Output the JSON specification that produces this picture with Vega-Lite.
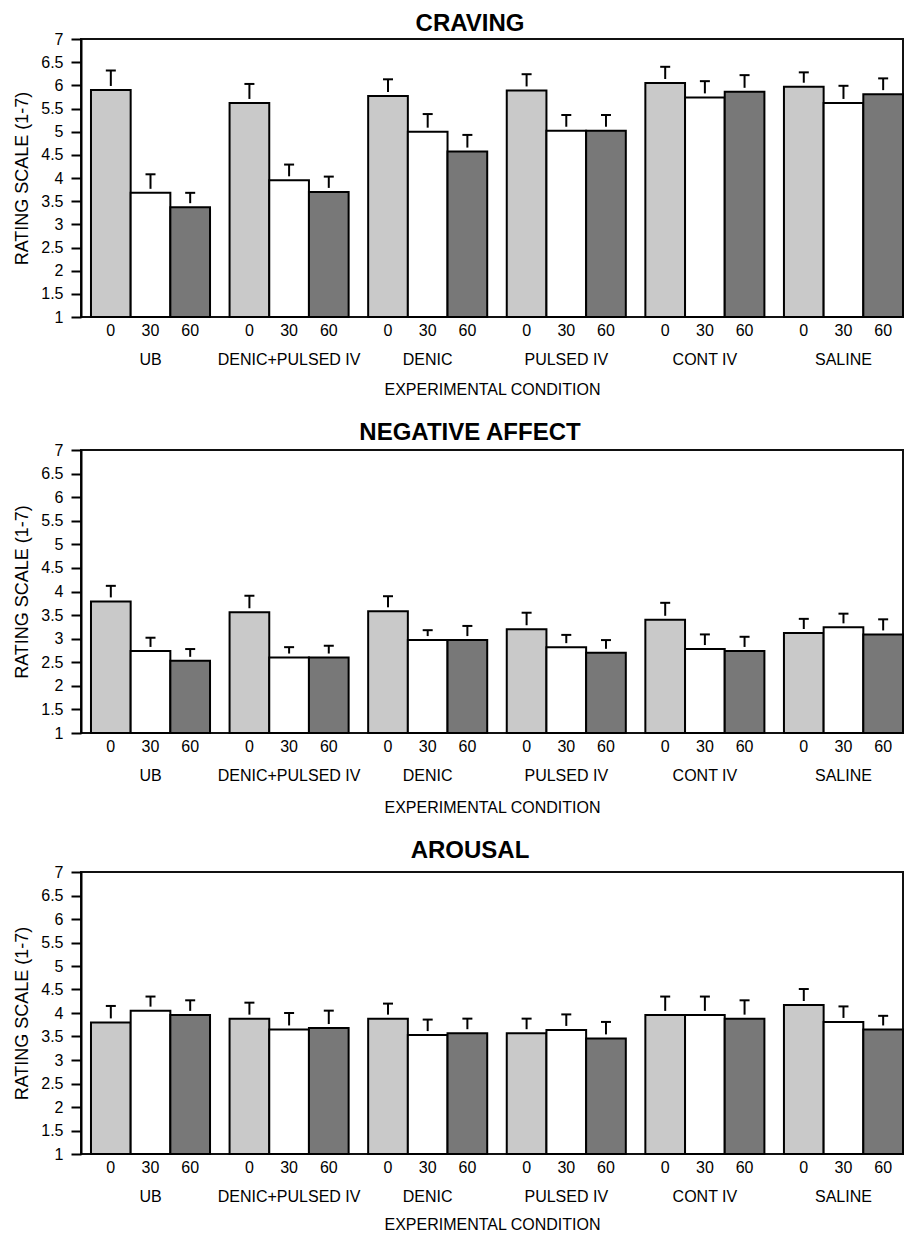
{
  "$schema": "https://vega.github.io/schema/vega-lite/v6.json",
  "padding": {"left": 12, "top": 11, "right": 0, "bottom": 0},
  "background": "white",
  "config": {
    "font": "Liberation Sans",
    "view": {"stroke": "#111111", "strokeWidth": 2},
    "axis": {"labelColor": "black", "titleColor": "black", "domainColor": "black", "tickColor": "black", "grid": false},
    "axisY": {"labelFontSize": 16, "tickSize": 10, "tickWidth": 2, "domainWidth": 2, "labelPadding": 8, "titleFontSize": 18, "titleFontWeight": "normal", "titlePadding": 9, "labelOverlap": false},
    "title": {"color": "black"}
  },
  "spacing": 22,
  "datasets": {
    "d": [
      {"panel": "CRAVING", "condition": "UB", "time": "0", "mean": 5.9, "upper": 6.32},
      {"panel": "CRAVING", "condition": "UB", "time": "30", "mean": 3.68, "upper": 4.08},
      {"panel": "CRAVING", "condition": "UB", "time": "60", "mean": 3.37, "upper": 3.68},
      {"panel": "CRAVING", "condition": "DENIC+PULSED IV", "time": "0", "mean": 5.62, "upper": 6.03},
      {"panel": "CRAVING", "condition": "DENIC+PULSED IV", "time": "30", "mean": 3.95, "upper": 4.29},
      {"panel": "CRAVING", "condition": "DENIC+PULSED IV", "time": "60", "mean": 3.7, "upper": 4.03},
      {"panel": "CRAVING", "condition": "DENIC", "time": "0", "mean": 5.77, "upper": 6.13},
      {"panel": "CRAVING", "condition": "DENIC", "time": "30", "mean": 5.0, "upper": 5.38},
      {"panel": "CRAVING", "condition": "DENIC", "time": "60", "mean": 4.57, "upper": 4.93},
      {"panel": "CRAVING", "condition": "PULSED IV", "time": "0", "mean": 5.89, "upper": 6.24},
      {"panel": "CRAVING", "condition": "PULSED IV", "time": "30", "mean": 5.02, "upper": 5.36},
      {"panel": "CRAVING", "condition": "PULSED IV", "time": "60", "mean": 5.02, "upper": 5.36},
      {"panel": "CRAVING", "condition": "CONT IV", "time": "0", "mean": 6.05, "upper": 6.4},
      {"panel": "CRAVING", "condition": "CONT IV", "time": "30", "mean": 5.74, "upper": 6.09},
      {"panel": "CRAVING", "condition": "CONT IV", "time": "60", "mean": 5.86, "upper": 6.22},
      {"panel": "CRAVING", "condition": "SALINE", "time": "0", "mean": 5.97, "upper": 6.28},
      {"panel": "CRAVING", "condition": "SALINE", "time": "30", "mean": 5.62, "upper": 5.99},
      {"panel": "CRAVING", "condition": "SALINE", "time": "60", "mean": 5.81, "upper": 6.15},
      {"panel": "NEGATIVE AFFECT", "condition": "UB", "time": "0", "mean": 3.79, "upper": 4.12},
      {"panel": "NEGATIVE AFFECT", "condition": "UB", "time": "30", "mean": 2.74, "upper": 3.02},
      {"panel": "NEGATIVE AFFECT", "condition": "UB", "time": "60", "mean": 2.53, "upper": 2.78},
      {"panel": "NEGATIVE AFFECT", "condition": "DENIC+PULSED IV", "time": "0", "mean": 3.56, "upper": 3.91},
      {"panel": "NEGATIVE AFFECT", "condition": "DENIC+PULSED IV", "time": "30", "mean": 2.6, "upper": 2.82},
      {"panel": "NEGATIVE AFFECT", "condition": "DENIC+PULSED IV", "time": "60", "mean": 2.6, "upper": 2.85},
      {"panel": "NEGATIVE AFFECT", "condition": "DENIC", "time": "0", "mean": 3.58, "upper": 3.9},
      {"panel": "NEGATIVE AFFECT", "condition": "DENIC", "time": "30", "mean": 2.97, "upper": 3.18},
      {"panel": "NEGATIVE AFFECT", "condition": "DENIC", "time": "60", "mean": 2.97, "upper": 3.27},
      {"panel": "NEGATIVE AFFECT", "condition": "PULSED IV", "time": "0", "mean": 3.2, "upper": 3.55},
      {"panel": "NEGATIVE AFFECT", "condition": "PULSED IV", "time": "30", "mean": 2.82, "upper": 3.08},
      {"panel": "NEGATIVE AFFECT", "condition": "PULSED IV", "time": "60", "mean": 2.7, "upper": 2.97},
      {"panel": "NEGATIVE AFFECT", "condition": "CONT IV", "time": "0", "mean": 3.4, "upper": 3.76},
      {"panel": "NEGATIVE AFFECT", "condition": "CONT IV", "time": "30", "mean": 2.78, "upper": 3.09},
      {"panel": "NEGATIVE AFFECT", "condition": "CONT IV", "time": "60", "mean": 2.74, "upper": 3.04},
      {"panel": "NEGATIVE AFFECT", "condition": "SALINE", "time": "0", "mean": 3.12, "upper": 3.42},
      {"panel": "NEGATIVE AFFECT", "condition": "SALINE", "time": "30", "mean": 3.24, "upper": 3.53},
      {"panel": "NEGATIVE AFFECT", "condition": "SALINE", "time": "60", "mean": 3.09, "upper": 3.41},
      {"panel": "AROUSAL", "condition": "UB", "time": "0", "mean": 3.8, "upper": 4.15},
      {"panel": "AROUSAL", "condition": "UB", "time": "30", "mean": 4.05, "upper": 4.35},
      {"panel": "AROUSAL", "condition": "UB", "time": "60", "mean": 3.96, "upper": 4.27},
      {"panel": "AROUSAL", "condition": "DENIC+PULSED IV", "time": "0", "mean": 3.88, "upper": 4.22},
      {"panel": "AROUSAL", "condition": "DENIC+PULSED IV", "time": "30", "mean": 3.65, "upper": 4.0},
      {"panel": "AROUSAL", "condition": "DENIC+PULSED IV", "time": "60", "mean": 3.68, "upper": 4.05},
      {"panel": "AROUSAL", "condition": "DENIC", "time": "0", "mean": 3.88, "upper": 4.2},
      {"panel": "AROUSAL", "condition": "DENIC", "time": "30", "mean": 3.53, "upper": 3.86},
      {"panel": "AROUSAL", "condition": "DENIC", "time": "60", "mean": 3.57, "upper": 3.88},
      {"panel": "AROUSAL", "condition": "PULSED IV", "time": "0", "mean": 3.57, "upper": 3.88},
      {"panel": "AROUSAL", "condition": "PULSED IV", "time": "30", "mean": 3.64, "upper": 3.97},
      {"panel": "AROUSAL", "condition": "PULSED IV", "time": "60", "mean": 3.46, "upper": 3.81},
      {"panel": "AROUSAL", "condition": "CONT IV", "time": "0", "mean": 3.96, "upper": 4.35},
      {"panel": "AROUSAL", "condition": "CONT IV", "time": "30", "mean": 3.96, "upper": 4.35},
      {"panel": "AROUSAL", "condition": "CONT IV", "time": "60", "mean": 3.88, "upper": 4.27},
      {"panel": "AROUSAL", "condition": "SALINE", "time": "0", "mean": 4.17, "upper": 4.51},
      {"panel": "AROUSAL", "condition": "SALINE", "time": "30", "mean": 3.81, "upper": 4.14},
      {"panel": "AROUSAL", "condition": "SALINE", "time": "60", "mean": 3.65, "upper": 3.94}
    ]
  },
  "vconcat": [
    {
      "width": 822, "height": 278,
      "title": {"text": "CRAVING", "fontSize": 24, "fontWeight": "bold", "frame": "group", "anchor": "middle", "dx": -22, "offset": -5},
      "data": {"name": "d"},
      "transform": [{"filter": "datum.panel == 'CRAVING'"}],
      "encoding": {
        "x": {"field": "condition", "type": "nominal", "sort": ["UB", "DENIC+PULSED IV", "DENIC", "PULSED IV", "CONT IV", "SALINE"],
          "scale": {"paddingInner": 0.141, "paddingOuter": 0.036, "align": 1},
          "axis": {"title": "EXPERIMENTAL CONDITION", "labelAngle": 0, "ticks": false, "tickSize": 0, "domain": false, "labelFontSize": 16, "labelPadding": 34, "titleFontSize": 16, "titleFontWeight": "normal", "titlePadding": 14}},
        "xOffset": {"field": "time", "type": "nominal", "sort": ["0", "30", "60"], "scale": {"paddingInner": 0, "paddingOuter": 0}}
      },
      "layer": [
        {"mark": {"type": "bar", "stroke": "black", "strokeWidth": 2},
          "encoding": {
            "y": {"field": "mean", "type": "quantitative", "scale": {"domain": [1, 7], "zero": false, "nice": false},
              "axis": {"title": "RATING SCALE (1-7)", "values": [1, 1.5, 2, 2.5, 3, 3.5, 4, 4.5, 5, 5.5, 6, 6.5, 7], "format": "~g"}},
            "y2": {"datum": 1},
            "fill": {"field": "time", "type": "nominal", "scale": {"domain": ["0", "30", "60"], "range": ["#c9c9c9", "#ffffff", "#787878"]}, "legend": null}}},
        {"mark": {"type": "rule", "strokeWidth": 2, "color": "black", "y2Offset": -4},
          "encoding": {"y": {"field": "upper", "type": "quantitative", "axis": {"title": "RATING SCALE (1-7)", "values": [1, 1.5, 2, 2.5, 3, 3.5, 4, 4.5, 5, 5.5, 6, 6.5, 7], "format": "~g"}}, "y2": {"field": "mean"}}},
        {"mark": {"type": "tick", "thickness": 2, "size": 10, "color": "black", "opacity": 1, "orient": "horizontal"},
          "encoding": {"y": {"field": "upper", "type": "quantitative", "axis": {"title": "RATING SCALE (1-7)", "values": [1, 1.5, 2, 2.5, 3, 3.5, 4, 4.5, 5, 5.5, 6, 6.5, 7], "format": "~g"}}}},
        {"mark": {"type": "text", "dy": 14, "baseline": "middle", "fontSize": 16, "color": "black"},
          "encoding": {"y": {"datum": 1, "type": "quantitative", "axis": {"title": "RATING SCALE (1-7)", "values": [1, 1.5, 2, 2.5, 3, 3.5, 4, 4.5, 5, 5.5, 6, 6.5, 7], "format": "~g"}}, "text": {"field": "time"}}}
      ]
    },
    {
      "width": 822, "height": 283,
      "title": {"text": "NEGATIVE AFFECT", "fontSize": 24, "fontWeight": "bold", "frame": "group", "anchor": "middle", "dx": -22, "offset": -3},
      "data": {"name": "d"},
      "transform": [{"filter": "datum.panel == 'NEGATIVE AFFECT'"}],
      "encoding": {
        "x": {"field": "condition", "type": "nominal", "sort": ["UB", "DENIC+PULSED IV", "DENIC", "PULSED IV", "CONT IV", "SALINE"],
          "scale": {"paddingInner": 0.141, "paddingOuter": 0.036, "align": 1},
          "axis": {"title": "EXPERIMENTAL CONDITION", "labelAngle": 0, "ticks": false, "tickSize": 0, "domain": false, "labelFontSize": 16, "labelPadding": 34, "titleFontSize": 16, "titleFontWeight": "normal", "titlePadding": 16}},
        "xOffset": {"field": "time", "type": "nominal", "sort": ["0", "30", "60"], "scale": {"paddingInner": 0, "paddingOuter": 0}}
      },
      "layer": [
        {"mark": {"type": "bar", "stroke": "black", "strokeWidth": 2},
          "encoding": {
            "y": {"field": "mean", "type": "quantitative", "scale": {"domain": [1, 7], "zero": false, "nice": false},
              "axis": {"title": "RATING SCALE (1-7)", "values": [1, 1.5, 2, 2.5, 3, 3.5, 4, 4.5, 5, 5.5, 6, 6.5, 7], "format": "~g"}},
            "y2": {"datum": 1},
            "fill": {"field": "time", "type": "nominal", "scale": {"domain": ["0", "30", "60"], "range": ["#c9c9c9", "#ffffff", "#787878"]}, "legend": null}}},
        {"mark": {"type": "rule", "strokeWidth": 2, "color": "black", "y2Offset": -4},
          "encoding": {"y": {"field": "upper", "type": "quantitative", "axis": {"title": "RATING SCALE (1-7)", "values": [1, 1.5, 2, 2.5, 3, 3.5, 4, 4.5, 5, 5.5, 6, 6.5, 7], "format": "~g"}}, "y2": {"field": "mean"}}},
        {"mark": {"type": "tick", "thickness": 2, "size": 10, "color": "black", "opacity": 1, "orient": "horizontal"},
          "encoding": {"y": {"field": "upper", "type": "quantitative", "axis": {"title": "RATING SCALE (1-7)", "values": [1, 1.5, 2, 2.5, 3, 3.5, 4, 4.5, 5, 5.5, 6, 6.5, 7], "format": "~g"}}}},
        {"mark": {"type": "text", "dy": 14, "baseline": "middle", "fontSize": 16, "color": "black"},
          "encoding": {"y": {"datum": 1, "type": "quantitative", "axis": {"title": "RATING SCALE (1-7)", "values": [1, 1.5, 2, 2.5, 3, 3.5, 4, 4.5, 5, 5.5, 6, 6.5, 7], "format": "~g"}}, "text": {"field": "time"}}}
      ]
    },
    {
      "width": 822, "height": 282,
      "title": {"text": "AROUSAL", "fontSize": 24, "fontWeight": "bold", "frame": "group", "anchor": "middle", "dx": -22, "offset": 1},
      "data": {"name": "d"},
      "transform": [{"filter": "datum.panel == 'AROUSAL'"}],
      "encoding": {
        "x": {"field": "condition", "type": "nominal", "sort": ["UB", "DENIC+PULSED IV", "DENIC", "PULSED IV", "CONT IV", "SALINE"],
          "scale": {"paddingInner": 0.141, "paddingOuter": 0.036, "align": 1},
          "axis": {"title": "EXPERIMENTAL CONDITION", "labelAngle": 0, "ticks": false, "tickSize": 0, "domain": false, "labelFontSize": 16, "labelPadding": 34, "titleFontSize": 16, "titleFontWeight": "normal", "titlePadding": 12}},
        "xOffset": {"field": "time", "type": "nominal", "sort": ["0", "30", "60"], "scale": {"paddingInner": 0, "paddingOuter": 0}}
      },
      "layer": [
        {"mark": {"type": "bar", "stroke": "black", "strokeWidth": 2},
          "encoding": {
            "y": {"field": "mean", "type": "quantitative", "scale": {"domain": [1, 7], "zero": false, "nice": false},
              "axis": {"title": "RATING SCALE (1-7)", "values": [1, 1.5, 2, 2.5, 3, 3.5, 4, 4.5, 5, 5.5, 6, 6.5, 7], "format": "~g"}},
            "y2": {"datum": 1},
            "fill": {"field": "time", "type": "nominal", "scale": {"domain": ["0", "30", "60"], "range": ["#c9c9c9", "#ffffff", "#787878"]}, "legend": null}}},
        {"mark": {"type": "rule", "strokeWidth": 2, "color": "black", "y2Offset": -4},
          "encoding": {"y": {"field": "upper", "type": "quantitative", "axis": {"title": "RATING SCALE (1-7)", "values": [1, 1.5, 2, 2.5, 3, 3.5, 4, 4.5, 5, 5.5, 6, 6.5, 7], "format": "~g"}}, "y2": {"field": "mean"}}},
        {"mark": {"type": "tick", "thickness": 2, "size": 10, "color": "black", "opacity": 1, "orient": "horizontal"},
          "encoding": {"y": {"field": "upper", "type": "quantitative", "axis": {"title": "RATING SCALE (1-7)", "values": [1, 1.5, 2, 2.5, 3, 3.5, 4, 4.5, 5, 5.5, 6, 6.5, 7], "format": "~g"}}}},
        {"mark": {"type": "text", "dy": 14, "baseline": "middle", "fontSize": 16, "color": "black"},
          "encoding": {"y": {"datum": 1, "type": "quantitative", "axis": {"title": "RATING SCALE (1-7)", "values": [1, 1.5, 2, 2.5, 3, 3.5, 4, 4.5, 5, 5.5, 6, 6.5, 7], "format": "~g"}}, "text": {"field": "time"}}}
      ]
    }
  ]
}
